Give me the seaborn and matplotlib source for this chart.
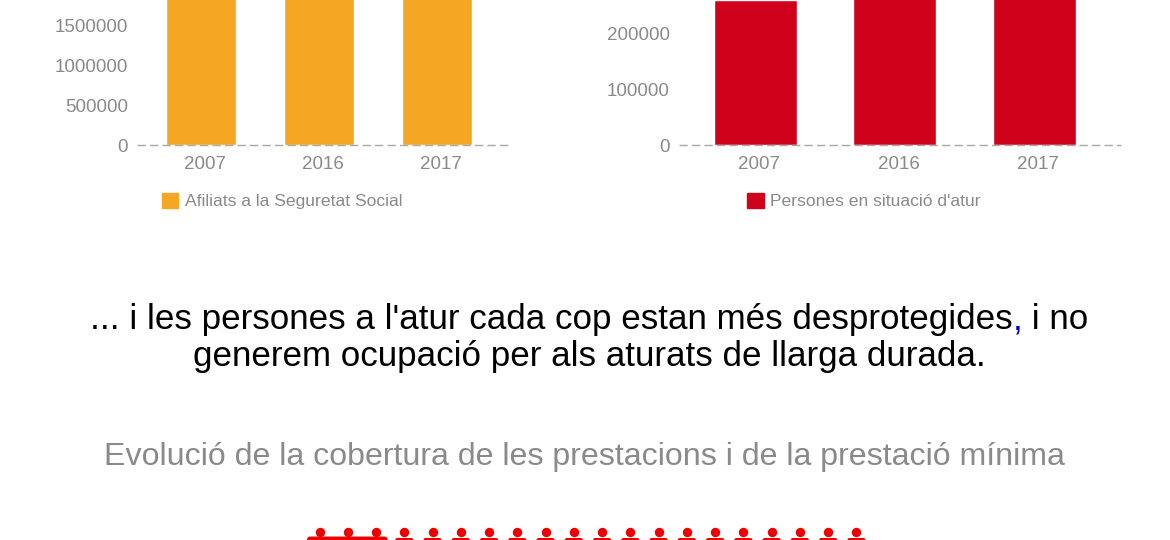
import matplotlib
matplotlib.use("Agg")
import matplotlib.pyplot as plt
from matplotlib.patches import Patch, FancyBboxPatch
from matplotlib.transforms import ScaledTranslation
import pandas as pd
import seaborn as sns

years = ["2007", "2016", "2017"]
afiliats = [3300000, 3000000, 3100000]
aturats = [259500, 560000, 500000]
afiliats_ticks = [0, 500000, 1000000, 1500000]
aturats_ticks = [0, 100000, 200000]
people_count = 20
merged_people = 3
afiliats_label = "Afiliats a la Seguretat Social"
aturats_label = "Persones en situació d'atur"
line1_a = "... i les persones a l'atur cada cop estan més desprotegides"
line1_b = ","
line1_c = " i no"
line2 = "generem ocupació per als aturats de llarga durada."
subtitle = "Evolució de la cobertura de les prestacions i de la prestació mínima"

W, H = 1170, 540
GREY = "#8a8a8a"
ORANGE = "#F5A623"
RED = "#D0021B"
ICON = "#EE0000"

sns.set_theme(style="white")
plt.rcParams["font.family"] = ["Liberation Sans", "DejaVu Sans"]
fig = plt.figure(figsize=(W / 100, H / 100), dpi=100, facecolor="white")


def px_axes(x0, x1, y_top, y_bottom):
    return fig.add_axes([x0 / W, 1 - y_bottom / H, (x1 - x0) / W, (y_bottom - y_top) / H])


def panel(x0, x1, centre0, band, bar_px, values, ticks, ymax, color, label, legend_x):
    ax = px_axes(x0, x1, 0, 145)
    df = pd.DataFrame({"year": years, "value": values})
    sns.barplot(data=df, x="year", y="value", color=color, saturation=1,
                width=bar_px / band, ax=ax, zorder=2)
    ax.set_xlim((x0 - centre0) / band, (x1 - centre0) / band)
    ax.set_ylim(0, ymax)
    ax.set_xlabel("")
    ax.set_ylabel("")
    ax.set_yticks(ticks)
    ax.set_yticklabels([str(t) for t in ticks])
    ax.tick_params(axis="both", length=0, labelsize=13.5, labelcolor=GREY)
    ax.tick_params(axis="y", pad=6.5)
    ax.tick_params(axis="x", pad=7.7)
    shift = ScaledTranslation(4.1 / 100, 0, fig.dpi_scale_trans)
    for lab in ax.get_xticklabels():
        lab.set_transform(lab.get_transform() + shift)
    sns.despine(ax=ax, left=True, bottom=True, top=True, right=True)
    ax.axhline(0, color="#a8a8a8", lw=1.0, dashes=(6, 3), clip_on=False, zorder=3)
    leg = ax.legend(handles=[Patch(facecolor=color, edgecolor=color, label=label)],
                    loc="center", bbox_to_anchor=(legend_x / W, 1 - 201 / H),
                    bbox_transform=fig.transFigure, frameon=False, fontsize=12.6,
                    handlelength=0.95, handleheight=0.95, handletextpad=0.36,
                    borderpad=0, borderaxespad=0)
    for t in leg.get_texts():
        t.set_color(GREY)
    return ax


panel(137, 510, 200.8, 118, 70.6, afiliats, afiliats_ticks, 1812500, ORANGE, afiliats_label, 282)
panel(679, 1121, 755, 139.6, 83, aturats, aturats_ticks, 260300, RED, aturats_label, 864)

# Overlay in pixel coordinates for headline text and pictogram
ov = fig.add_axes([0, 0, 1, 1], zorder=5)
ov.set_xlim(0, W)
ov.set_ylim(H, 0)
ov.axis("off")
ov.patch.set_alpha(0)

HEAD = 25.18
t1 = ov.text(90, 329, line1_a, fontsize=HEAD, color="black", ha="left", va="baseline")
t2 = ov.annotate(line1_b, xy=(1, 0), xycoords=t1, xytext=(0, 0), textcoords="offset points",
                 fontsize=HEAD, color="#0000CC", ha="left", va="bottom")
ov.annotate(line1_c, xy=(1, 0), xycoords=t2, xytext=(0, 0), textcoords="offset points",
            fontsize=HEAD, color="black", ha="left", va="bottom")
ov.text(589.5, 366, line2, fontsize=HEAD, color="black", ha="center", va="baseline")
ov.text(584.5, 465, subtitle, fontsize=23.15, color=GREY, ha="center", va="baseline")

# Pictogram of people, cut off by the bottom edge of the figure
head_x = [319.5 + 28.26 * i for i in range(people_count)]
sns.scatterplot(x=head_x, y=[532.3] * people_count, s=46, color=ICON, linewidth=0, ax=ov,
                legend=False, clip_on=True)
ov.set_xlim(0, W)
ov.set_ylim(H, 0)
ov.add_patch(FancyBboxPatch((head_x[0] - 9.7, 539.3), head_x[merged_people - 1] - head_x[0] + 18.5, 12,
                            boxstyle="round,pad=0,rounding_size=0", fc=ICON, ec=ICON, lw=4,
                            joinstyle="round"))
for x in head_x[merged_people:]:
    ov.add_patch(FancyBboxPatch((x - 9, 538), 18, 10, boxstyle="round,pad=0,rounding_size=2",
                                fc=ICON, ec="none"))

fig.savefig("out.png", dpi=100, facecolor="white")
